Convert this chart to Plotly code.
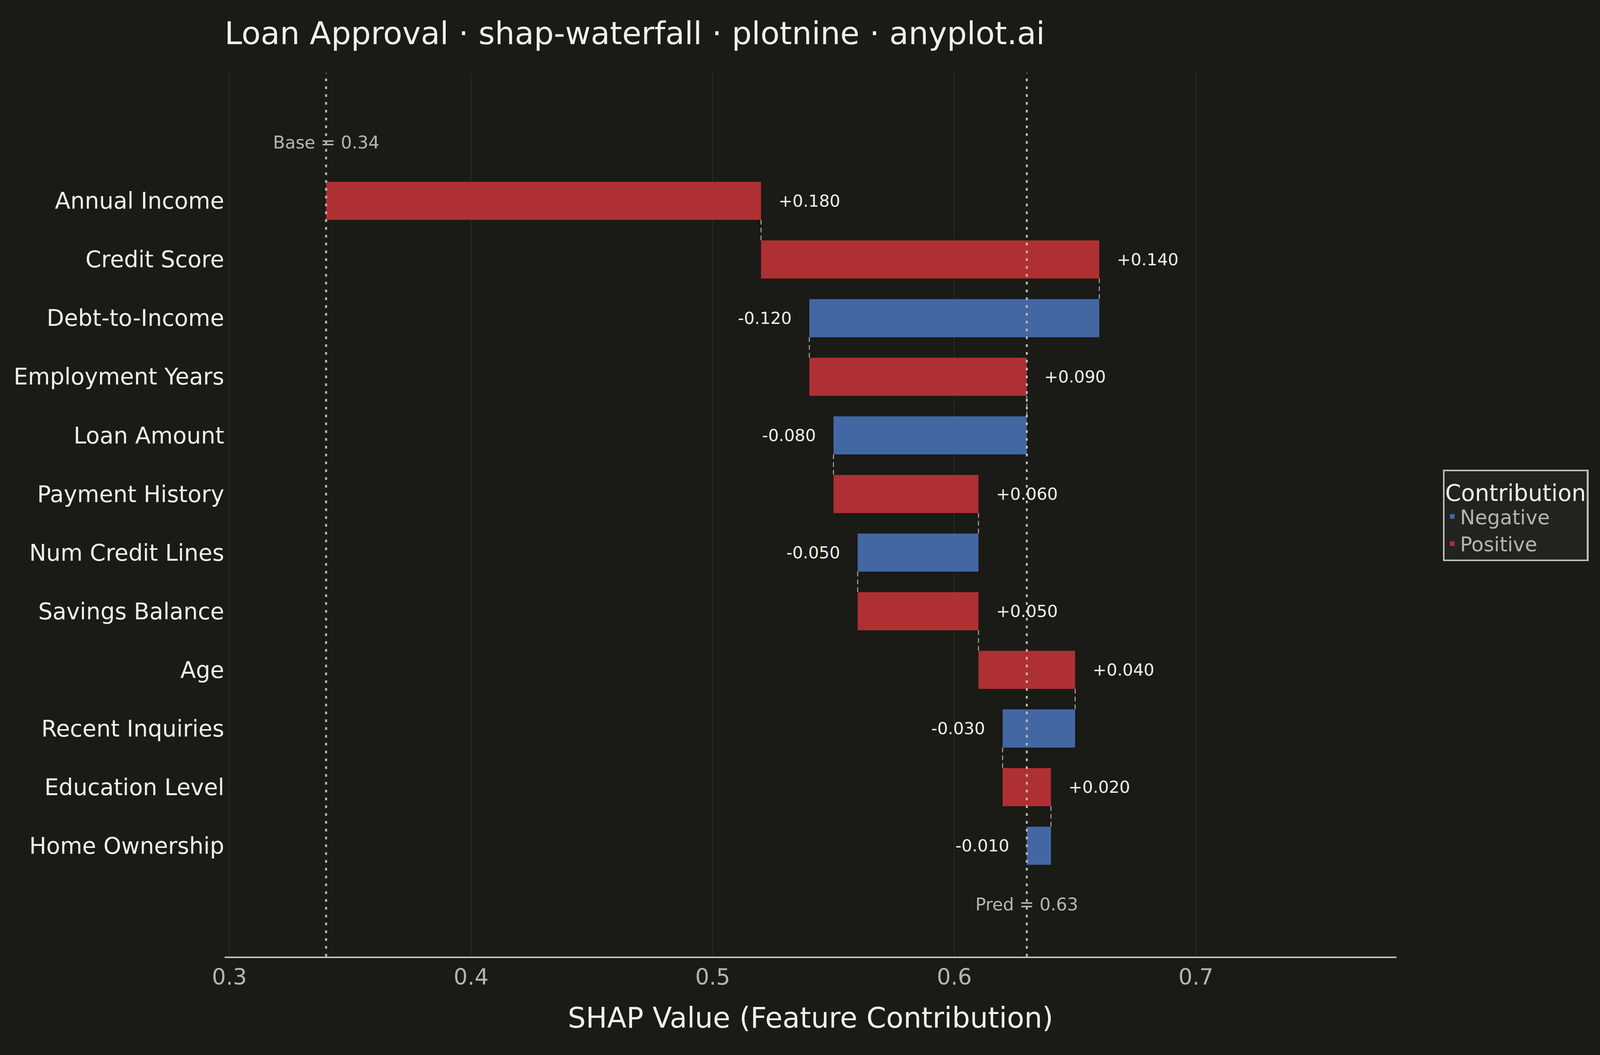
import plotly.graph_objects as go

# SHAP waterfall data
features = ["Annual Income", "Credit Score", "Debt-to-Income", "Employment Years",
            "Loan Amount", "Payment History", "Num Credit Lines", "Savings Balance",
            "Age", "Recent Inquiries", "Education Level", "Home Ownership"]
shap_values = [0.18, 0.14, -0.12, 0.09, -0.08, 0.06, -0.05, 0.05, 0.04, -0.03, 0.02, -0.01]
base_value = 0.34
x_ticks = [0.3, 0.4, 0.5, 0.6, 0.7]

# the browser window is 4096 css px wide and 2700 tall; sizes below are
# measured on the 4800 px reference, so horizontal things get scaled by S
W, H = 4096, 2700
S = W / 4800


def px(v):
    return round(v * S, 1)


BG = "#1a1a17"
RED = "#af3033"
BLUE = "#4367a3"
TXT = "#f0efe8"
MUTED = "#b5b5ad"
FONT = "DejaVu Sans"

n = len(features)
ypos = list(range(n, 0, -1))  # top row first
starts, ends = [], []
run = base_value
for v in shap_values:
    starts.append(run)
    run = run + v
    ends.append(run)
pred_value = run

fig = go.Figure()

for name, color, keep in [("Negative", BLUE, lambda v: v < 0), ("Positive", RED, lambda v: v >= 0)]:
    idx = [i for i, v in enumerate(shap_values) if keep(v)]
    fig.add_trace(go.Bar(
        orientation="h",
        y=[ypos[i] for i in idx],
        x=[shap_values[i] for i in idx],
        base=[starts[i] for i in idx],
        width=0.65,
        marker=dict(color=color, line=dict(width=0)),
        name=name,
        hoverinfo="skip",
    ))

# connectors between consecutive bars
cx, cy = [], []
for i in range(n - 1):
    cx += [ends[i], ends[i], None]
    cy += [ypos[i] - 0.325, ypos[i + 1] + 0.325, None]
fig.add_trace(go.Scatter(x=cx, y=cy, mode="lines", showlegend=False, hoverinfo="skip",
                         line=dict(color="#a8a8a0", width=px(3), dash="12px,8px")))

# base and prediction reference lines
y_lo, y_hi = -0.89, 14.18
for xv in [base_value, pred_value]:
    fig.add_trace(go.Scatter(x=[xv, xv], y=[y_lo, y_hi], mode="lines", showlegend=False,
                             hoverinfo="skip",
                             line=dict(color="#b8b8b0", width=px(6), dash="7px,13px")))

# value labels
for i, v in enumerate(shap_values):
    fig.add_annotation(x=ends[i], y=ypos[i], text=f"{v:+.3f}", showarrow=False,
                       xanchor="left" if v >= 0 else "right",
                       xshift=px(50) if v >= 0 else -px(50),
                       font=dict(size=px(50), color=TXT, family=FONT))

fig.add_annotation(x=base_value, y=n + 1, text=f"Base = {base_value:.2f}", showarrow=False,
                   font=dict(size=px(52), color=MUTED, family=FONT))
fig.add_annotation(x=pred_value, y=0, text=f"Pred = {pred_value:.2f}", showarrow=False,
                   font=dict(size=px(52), color=MUTED, family=FONT))

fig.update_layout(
    width=W, height=H,
    paper_bgcolor=BG, plot_bgcolor=BG,
    font=dict(family=FONT, color=TXT),
    barmode="overlay",
    margin=dict(l=px(674), r=px(611), t=187, b=252),
    title=dict(text="Loan Approval · shap-waterfall · plotnine · anyplot.ai",
               x=0, xref="paper", xanchor="left", y=0.9685, yanchor="middle",
               font=dict(size=px(94), color=TXT)),
    xaxis=dict(range=[0.298, 0.783], tickvals=x_ticks, ticktext=[str(t) for t in x_ticks],
               showgrid=True, gridcolor="#2a2a27", gridwidth=px(2), zeroline=False,
               showline=True, linecolor="#bdbdb5", linewidth=px(5),
               ticks="", tickfont=dict(size=px(66), color=MUTED),
               title=dict(text="SHAP Value (Feature Contribution)", standoff=49,
                          font=dict(size=px(85), color=TXT))),
    yaxis=dict(range=[y_lo, y_hi], tickvals=ypos, ticktext=features,
               showgrid=False, zeroline=False, showline=False, ticks="",
               tickfont=dict(size=px(68), color=TXT)),
    legend=dict(title=dict(text="Contribution", font=dict(size=px(68), color=TXT)),
                font=dict(size=px(60), color=MUTED),
                x=1.0395, xanchor="left", y=0.551, yanchor="top",
                bgcolor="#22221f", bordercolor="#bdbdb5", borderwidth=px(5),
                traceorder="normal"),
)

fig.write_html("out.html", config={"displayModeBar": False},
               post_script=f"document.body.style.margin = '0'; document.body.style.background = '{BG}';")
